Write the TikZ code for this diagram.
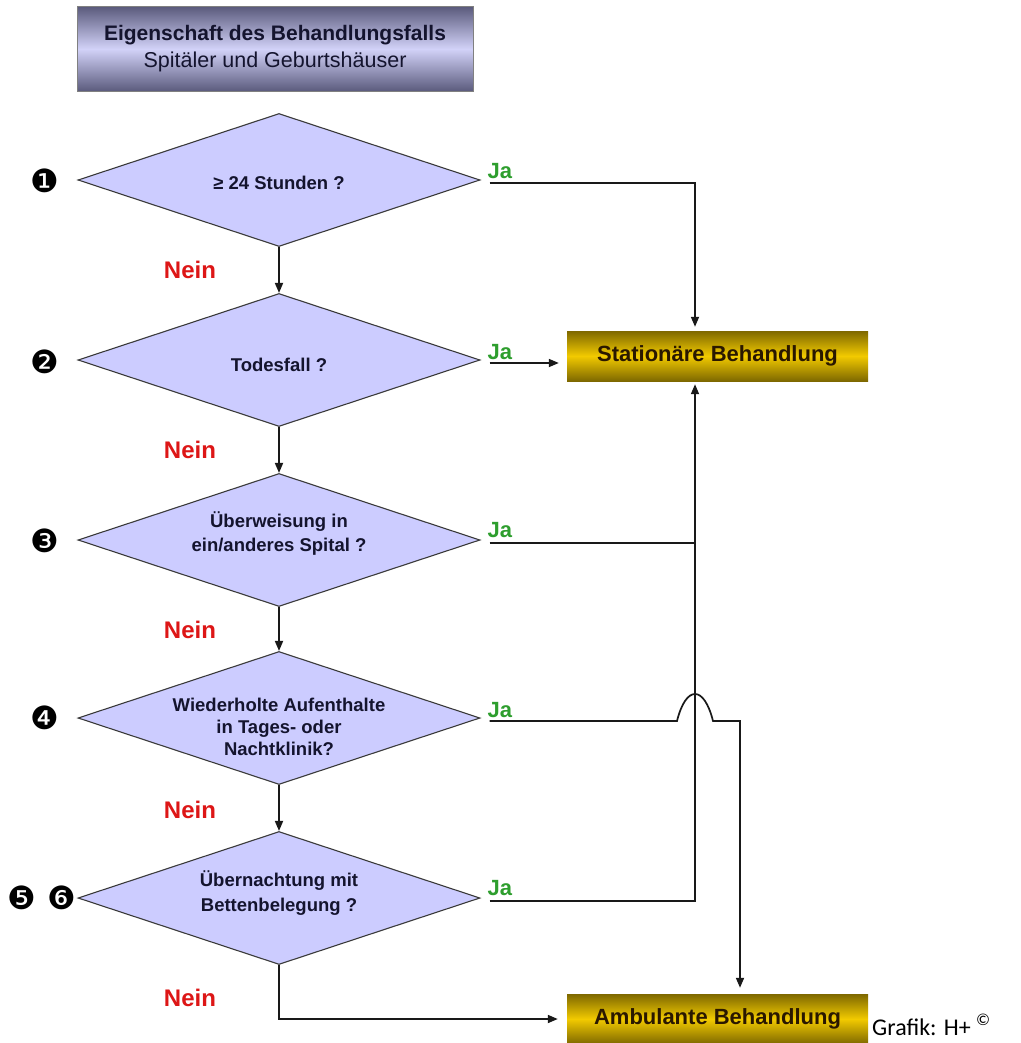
\documentclass[tikz,border=0pt]{standalone}
\usepackage{fontspec}
\setmainfont{Liberation Sans}
\newfontfamily\dvfont{DejaVu Sans}
\newfontfamily\carlfont{Carlito}
\usetikzlibrary{shapes.geometric,arrows.meta}
\definecolor{lav}{HTML}{CCCCFF}
\definecolor{dedge}{HTML}{3A3A3A}
\definecolor{neinred}{HTML}{DD1616}
\definecolor{jagreen}{HTML}{2E9E2E}
\definecolor{golddark}{HTML}{7E6800}
\definecolor{goldmid}{HTML}{F2CA00}
\definecolor{titdark}{HTML}{5A5A7C}
\definecolor{titmid}{HTML}{D2D2F8}
\definecolor{txtnavy}{HTML}{14142E}
\definecolor{txtbrown}{HTML}{2A1800}
\tikzset{
  dia/.style={diamond, draw=dedge, line width=1.1pt, fill=lav, inner sep=0pt,
    minimum width=402pt, minimum height=133pt, shape aspect=3.02},
  dtext/.style={align=center, text=txtnavy, font=\fontsize{18.5}{22}\selectfont\bfseries},
  nein/.style={text=neinred, font=\fontsize{24}{28}\selectfont\bfseries},
  ja/.style={text=jagreen, font=\fontsize{22}{26}\selectfont\bfseries, anchor=west},
  num/.style={font=\dvfont\fontsize{32}{34}\selectfont},
  goldbox/.style={draw=none, minimum width=301pt, minimum height=50pt, inner sep=0pt,
    top color=golddark, bottom color=golddark, middle color=goldmid,
    text=txtbrown, font=\fontsize{22}{26}\selectfont\bfseries},
  titlebox/.style={draw=gray, minimum width=396pt, minimum height=85pt, inner sep=0pt,
    top color=titdark, bottom color=titdark, middle color=titmid, align=center, text=txtnavy},
  conn/.style={line width=1.7pt, black!90},
  arr/.style={conn, -{Triangle[length=10pt,width=8pt]}},
}
\begin{document}
\begin{tikzpicture}[x=1pt,y=-1pt]
\useasboundingbox (0,0) rectangle (1020,1043);
\fill[white] (0,0) rectangle (1020,1043);

% title
\node[titlebox] (title) at (275,49) {{\fontsize{21}{28}\selectfont\bfseries Eigenschaft des Behandlungsfalls}\\[6pt]{\fontsize{21.5}{26}\selectfont Spitäler und Geburtshäuser}};

% diamonds
\node[dia] (d1) at (279,180) {};
\node[dia] (d2) at (279,360) {};
\node[dia] (d3) at (279,540) {};
\node[dia] (d4) at (279,718) {};
\node[dia] (d5) at (279,898) {};

\node[dtext] (t1) at ([yshift=-3pt]d1.center) {≥ 24 Stunden ?};
\node[dtext] (t2) at ([yshift=-5pt]d2.center) {Todesfall ?};
\node[dtext] (t3) at ([yshift=6pt]d3.center) {Überweisung in\\[2pt]ein/anderes Spital ?};
\node[dtext] (t4) at ([yshift=-9pt]d4.center) {Wiederholte Aufenthalte\\in Tages- oder\\Nachtklinik?};
\node[dtext] (t5) at ([yshift=5pt]d5.center) {Übernachtung mit\\[3pt]Bettenbelegung ?};

% numbers
\node[num] (n1) at (45,181) {❶};
\node[num] (n2) at (45,362) {❷};
\node[num] (n3) at (45,541) {❸};
\node[num] (n4) at (45,718) {❹};
\node[num] (n5) at (22,898) {❺};
\node[num] (n6) at (62,898) {❻};

% Nein labels
\node[nein] (nn1) at (190,270) {Nein};
\node[nein] (nn2) at (190,450) {Nein};
\node[nein] (nn3) at (190,630) {Nein};
\node[nein] (nn4) at (190,810) {Nein};
\node[nein] (nn5) at (190,998) {Nein};

% Ja labels
\node[ja] (j1) at (484,171) {Ja};
\node[ja] (j2) at (484,352) {Ja};
\node[ja] (j3) at (484,530) {Ja};
\node[ja] (j4) at (484,710) {Ja};
\node[ja] (j5) at (484,888) {Ja};

% result boxes
\node[goldbox] (stat) at (717.5,356) {Stationäre Behandlung};
\node[goldbox] (amb) at (717.5,1019) {Ambulante Behandlung};

% footer
\node[anchor=base west, inner sep=0pt, font=\carlfont\fontsize{24}{26}\selectfont] (credit) at (872,1035) {Grafik: H+ \textsuperscript{©}};

% vertical arrows
\draw[arr] (d1.south) -- (d2.north);
\draw[arr] (d2.south) -- (d3.north);
\draw[arr] (d3.south) -- (d4.north);
\draw[arr] (d4.south) -- (d5.north);
\draw[arr, shorten >=9pt] (d5.south) |- (amb.west);

% Ja connectors
\coordinate (jx) at ([xshift=-22.5pt]stat.south);
\coordinate (jn) at ([xshift=-22.5pt]stat.north);
\coordinate (ax) at ([xshift=22.5pt]amb.north);
\draw[arr, shorten <=9pt, shorten >=4pt] ([yshift=-3pt]d1.east) -| (jn);
\draw[arr, shorten <=9pt, shorten >=8pt] ([yshift=-3pt]d2.east) -- ([yshift=-3pt]d2.east -| stat.west);
\draw[arr, shorten <=9pt, shorten >=3pt] ([yshift=-3pt]d3.east) -| (jx);
\coordinate (b3) at (jx |- d3.east);
\draw[conn, shorten <=9pt] ([yshift=-3pt]d5.east) -| ([yshift=-3pt]b3);
\coordinate (h4) at ([yshift=-3pt]jx |- d4.east);
\draw[arr, shorten >=6pt] ([xshift=9pt,yshift=-3pt]d4.east) -- ([xshift=-18pt]h4)
  .. controls ([xshift=-9pt,yshift=36pt]h4) and ([xshift=9pt,yshift=36pt]h4) .. ([xshift=18pt]h4)
  -| (ax);
\end{tikzpicture}
\end{document}
